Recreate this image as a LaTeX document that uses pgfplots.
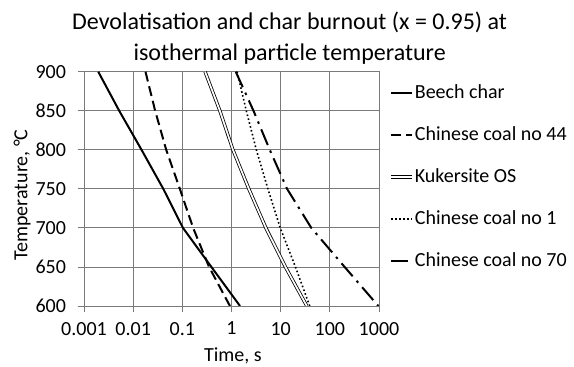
\documentclass[border=0pt]{standalone}
\usepackage{fontspec}
\setmainfont{Carlito}
\usepackage{pgfplots}
\pgfplotsset{compat=1.18}
\begin{document}
\begin{tikzpicture}
\begin{axis}[
  at={(0pt,0pt)}, anchor=south west,
  scale only axis, width=295pt, height=234.3pt,
  xmode=log, xmin=0.001, xmax=1000, ymin=600, ymax=900,
  xtick={0.001,0.01,0.1,1,10,100,1000},
  xticklabels={0.001,0.01,0.1,1,10,100,1000},
  ytick={600,650,700,750,800,850,900},
  xminorticks=false,
  grid=major,
  major grid style={black!52, line width=0.8pt},
  axis line style={black!52, line width=0.8pt},
  tick style={black!52, line width=0.8pt},
  major tick length=6.5pt, tick align=outside,
  xtick pos=bottom, ytick pos=left,
  /pgf/number format/assume math mode=true,
  tick label style={font=\fontsize{20}{24}\selectfont, black},
  yticklabel style={xshift=-8pt},
  xticklabel style={yshift=-6pt},
  title={Devolatisation and char burnout (x = 0.95) at\\isothermal particle temperature},
  title style={at={(0.697,1.118)}, anchor=center, align=center, font=\fontsize{24}{31}\selectfont},
  xlabel={Time, s},
  xlabel style={at={(axis description cs:0.505,-0.214)}, anchor=center, font=\fontsize{20}{24}\selectfont},
  ylabel={Temperature, °C},
  ylabel style={at={(axis description cs:-0.210,0.474)}, anchor=center, rotate=0, font=\fontsize{20}{24}\selectfont},
  legend style={at={(1.0237,0.96)}, anchor=north west, draw=none, fill=none,
    font=\fontsize{20}{24}\selectfont, row sep=22pt,
    nodes={inner sep=1pt, text height=14pt, text depth=4pt}},
  legend cell align=left,
  legend image code/.code={\draw[#1] (0pt,0pt) -- (21pt,0pt);},
]
\addplot[black, line width=2pt] coordinates {
 (0.00195,900) (0.0052,850) (0.0148,800) (0.041,750) (0.103,700) (0.39,650) (1.49,600)};
\addlegendentry{Beech char}
\addplot[black, line width=2pt, dash pattern=on 10pt off 5pt] coordinates {
 (0.0178,900) (0.028,850) (0.047,800) (0.089,750) (0.166,700) (0.35,650) (0.93,600)};
\addlegendentry{Chinese coal no 44}
\addplot[black, line width=0.8pt, double=white, double distance=1.7pt,
  legend image code/.code={\draw[black, line width=0.9pt, double=white, double distance=1.9pt] (0pt,0pt) -- (21pt,0pt);}] coordinates {
 (0.29,900) (0.58,850) (1.07,800) (2.25,750) (5.0,700) (12.5,650) (34,600)};
\addlegendentry{Kukersite OS}
\addplot[black, line width=1.6pt, dash pattern=on 1.6pt off 2.4pt] coordinates {
 (1.30,900) (2.0,850) (3.2,800) (5.5,750) (9.8,700) (20,650) (39,600)};
\addlegendentry{Chinese coal no 1}
\addplot[black, line width=2pt, dash pattern=on 17pt off 6pt on 2.5pt off 6pt,
  legend image code/.code={\draw[black, line width=2pt] (0pt,0pt) -- (21pt,0pt);}] coordinates {
 (1.22,900) (2.8,850) (6.0,800) (13.5,750) (42,700) (200,650) (970,600)};
\addlegendentry{Chinese coal no 70}
\end{axis}
\pgfresetboundingbox
\path[use as bounding box] (-84pt,-61pt) rectangle (490pt,306pt);
\end{tikzpicture}
\end{document}
